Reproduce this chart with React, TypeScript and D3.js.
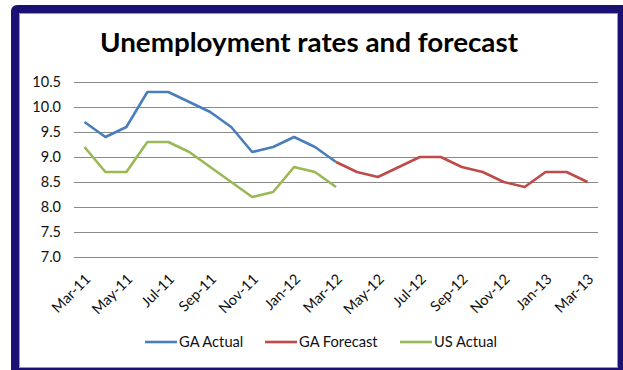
import React from "react";
import * as d3 from "d3";

const months = [
  "Mar-11", "Apr-11", "May-11", "Jun-11", "Jul-11", "Aug-11", "Sep-11", "Oct-11", "Nov-11", "Dec-11",
  "Jan-12", "Feb-12", "Mar-12", "Apr-12", "May-12", "Jun-12", "Jul-12", "Aug-12", "Sep-12", "Oct-12",
  "Nov-12", "Dec-12", "Jan-13", "Feb-13", "Mar-13",
];
const gaActualMonths = months.slice(0, 13);
const gaActual = [9.7, 9.4, 9.6, 10.3, 10.3, 10.1, 9.9, 9.6, 9.1, 9.2, 9.4, 9.2, 8.9];
const gaForecastMonths = months.slice(12);
const gaForecast = [8.9, 8.7, 8.6, 8.8, 9.0, 9.0, 8.8, 8.7, 8.5, 8.4, 8.7, 8.7, 8.5];
const usActualMonths = months.slice(0, 13);
const usActual = [9.2, 8.7, 8.7, 9.3, 9.3, 9.1, 8.8, 8.5, 8.2, 8.3, 8.8, 8.7, 8.4];
const yTicks = [7.0, 7.5, 8.0, 8.5, 9.0, 9.5, 10.0, 10.5];
const xLabels = months.filter((_, i) => i % 2 === 0);

const seriesNames = ["GA Actual", "GA Forecast", "US Actual"];
const seriesColors = ["#4a7ebb", "#be4b48", "#98b954"];

const W = 623;
const H = 370;
const FONT = "Lato, 'Open Sans', sans-serif";

export default function App() {
  const x = d3.scalePoint<string>().domain(months).range([74, 598]).padding(0.5);
  const y = d3.scaleLinear().domain([7, 10.5]).range([257, 82]);

  const line = d3
    .line<[string, number]>()
    .x((d) => x(d[0]) as number)
    .y((d) => y(d[1]));

  const series: [string, number][][] = [
    gaActualMonths.map((m, i) => [m, gaActual[i]]),
    gaForecastMonths.map((m, i) => [m, gaForecast[i]]),
    usActualMonths.map((m, i) => [m, usActual[i]]),
  ];

  const legendX = [145, 265, 400];

  return (
    <svg
      width={W}
      height={H}
      style={{ position: "absolute", left: 0, top: 0, background: "#fff" }}
      fontFamily={FONT}
    >
      <rect x={11} y={5} width={W + 20} height={H + 20} rx={6} fill="#1b1175" />
      <rect x={19.5} y={13.5} width={598} height={354} fill="#fff" stroke="#9a9aa6" strokeWidth={1} />

      <text
        x={309}
        y={52}
        textAnchor="middle"
        fontSize={26}
        fontWeight="bold"
        fill="#000"
        textLength={418}
        lengthAdjust="spacingAndGlyphs"
      >
        Unemployment rates and forecast
      </text>

      {yTicks.map((t) => (
        <g key={t}>
          <line x1={74} x2={598} y1={Math.round(y(t)) + 0.5} y2={Math.round(y(t)) + 0.5} stroke="#8a8a8a" strokeWidth={1} />
          <text x={61} y={y(t) + 5} textAnchor="end" fontSize={14.5} fill="#111">
            {t.toFixed(1)}
          </text>
        </g>
      ))}

      {xLabels.map((m) => (
        <text
          key={m}
          transform={`translate(${(x(m) as number) + 7},${280}) rotate(-45)`}
          textAnchor="end"
          fontSize={14.5}
          fill="#111"
        >
          {m}
        </text>
      ))}

      {series.map((s, i) => (
        <path key={i} d={line(s) || ""} fill="none" stroke={seriesColors[i]} strokeWidth={2.6} strokeLinejoin="round" />
      ))}

      {seriesNames.map((n, i) => (
        <g key={n}>
          <line x1={legendX[i]} x2={legendX[i] + 32} y1={342} y2={342} stroke={seriesColors[i]} strokeWidth={2.6} />
          <text x={legendX[i] + 34} y={347} fontSize={14.7} fill="#111">
            {n}
          </text>
        </g>
      ))}
    </svg>
  );
}
